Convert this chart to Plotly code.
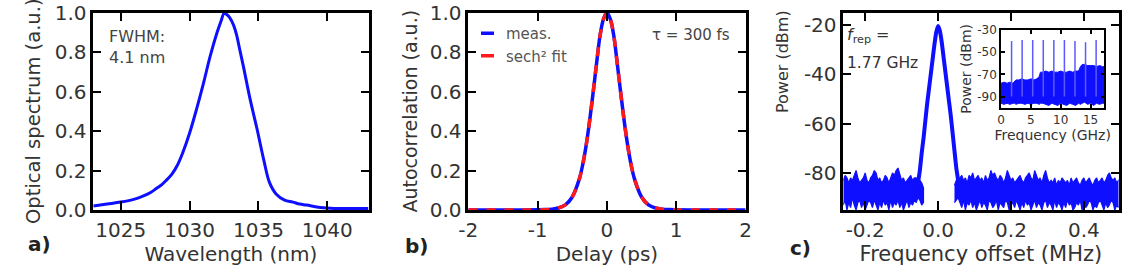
import plotly.graph_objects as go

FONT = "DejaVu Sans"
BLUE = "rgb(15,15,255)"
RED = "rgb(255,25,25)"

# ---------------- Panel a: optical spectrum ----------------
wavelength_nm = [1023.0, 1024.0, 1025.0, 1026.0, 1026.6, 1027.2, 1027.6, 1028.0, 1028.3, 1028.7,
                 1029.1, 1029.5, 1030.0, 1030.5, 1031.0, 1031.5, 1032.0, 1032.3, 1032.5, 1032.7,
                 1032.9, 1033.2, 1033.4, 1033.65, 1033.9, 1034.4, 1034.9, 1035.4, 1035.8, 1036.3,
                 1036.9, 1037.5, 1038.0, 1038.5, 1039.5, 1040.5, 1041.5, 1043.0]
spectrum_au = [0.02, 0.03, 0.04, 0.055, 0.07, 0.09, 0.11, 0.13, 0.15, 0.18,
               0.225, 0.29, 0.39, 0.51, 0.64, 0.78, 0.90, 0.96, 0.995, 0.99,
               0.975, 0.935, 0.89, 0.81, 0.73, 0.56, 0.41, 0.25, 0.14, 0.08,
               0.05, 0.04, 0.03, 0.025, 0.013, 0.008, 0.008, 0.008]
a_xticks = [1025, 1030, 1035, 1040]
a_xticklabels = ["1025", "1030", "1035", "1040"]
au_ticks = [0, 0.2, 0.4, 0.6, 0.8, 1.0]
au_ticklabels = ["0.0", "0.2", "0.4", "0.6", "0.8", "1.0"]

# ---------------- Panel b: autocorrelation ----------------
delay_ps = [-2.0, -1.5, -1.2, -1.0, -0.9, -0.8, -0.7, -0.6, -0.5, -0.4, -0.35, -0.3, -0.25, -0.2,
            -0.15, -0.1, -0.05, 0.0, 0.05, 0.1, 0.15, 0.2, 0.25, 0.3, 0.35, 0.4, 0.5, 0.6,
            0.7, 0.8, 0.9, 1.0, 1.2, 1.5, 2.0]
ac_meas = [0.0, 0.0, 0.0, 0.001, 0.002, 0.004, 0.010, 0.026, 0.066, 0.155, 0.228, 0.326, 0.449, 0.591,
           0.739, 0.881, 0.966, 1.0, 0.966, 0.881, 0.739, 0.591, 0.449, 0.326, 0.228, 0.155, 0.066, 0.026,
           0.010, 0.004, 0.002, 0.001, 0.0, 0.0, 0.0]
ac_fit = [0.0, 0.0, 0.0, 0.0005, 0.0015, 0.0037, 0.010, 0.026, 0.066, 0.155, 0.228, 0.326, 0.449, 0.591,
          0.739, 0.881, 0.966, 1.0, 0.966, 0.881, 0.739, 0.591, 0.449, 0.326, 0.228, 0.155, 0.066, 0.026,
          0.010, 0.0037, 0.0015, 0.0005, 0.0, 0.0, 0.0]
b_xticks = [-2, -1, 0, 1, 2]
b_xticklabels = ["-2", "-1", "0", "1", "2"]

# ---------------- Panel c: RF spectrum ----------------
peak_offset_mhz = [-0.058, -0.055, -0.05, -0.045, -0.04, -0.035, -0.03, -0.025, -0.02, -0.015, -0.01, -0.005,
                   0.0, 0.005, 0.01, 0.015, 0.02, 0.025, 0.03, 0.035, 0.04, 0.045, 0.05, 0.055, 0.058]
peak_power_dbm = [-89, -84, -79, -72, -66, -59, -52, -46, -40, -34, -28, -23,
                  -20.5, -22.5, -27, -33, -39, -45, -51, -57, -64, -71, -78, -83, -88]

floor_left_mhz = [-0.26, -0.255, -0.25, -0.245, -0.24, -0.235, -0.23, -0.225, -0.22, -0.215,
                  -0.21, -0.205, -0.20, -0.195, -0.19, -0.185, -0.18, -0.175, -0.17, -0.165,
                  -0.16, -0.155, -0.15, -0.145, -0.14, -0.135, -0.13, -0.125, -0.12, -0.115,
                  -0.11, -0.105, -0.10, -0.095, -0.09, -0.085, -0.08, -0.075, -0.07, -0.065,
                  -0.06, -0.055, -0.05, -0.045, -0.04]
floor_left_upper = [-83, -81, -82, -84, -82, -83, -81, -79, -82, -84,
                    -83, -82, -80, -83, -84, -82, -81, -79, -80, -83,
                    -82, -84, -83, -81, -82, -84, -82, -80, -81, -79,
                    -78, -81, -83, -82, -84, -83, -82, -81, -83, -82,
                    -82, -83, -83, -84, -86]
floor_left_lower = [-93, -91, -95, -92, -94, -90, -93, -95, -92, -91,
                    -94, -92, -95, -93, -91, -92, -94, -91, -93, -95,
                    -92, -94, -91, -93, -92, -95, -91, -94, -92, -93,
                    -91, -94, -92, -95, -93, -91, -94, -92, -93, -91,
                    -92, -90, -91, -93, -92]

floor_right_mhz = [0.045, 0.05, 0.055, 0.06, 0.065, 0.07, 0.075, 0.08, 0.085, 0.09, 0.095, 0.10,
                   0.105, 0.11, 0.115, 0.12, 0.125, 0.13, 0.135, 0.14, 0.145, 0.15,
                   0.155, 0.16, 0.165, 0.17, 0.175, 0.18, 0.185, 0.19, 0.195, 0.20,
                   0.205, 0.21, 0.215, 0.22, 0.225, 0.23, 0.235, 0.24, 0.245, 0.25,
                   0.255, 0.26, 0.265, 0.27, 0.275, 0.28, 0.285, 0.29, 0.295, 0.30,
                   0.305, 0.31, 0.315, 0.32, 0.325, 0.33, 0.335, 0.34, 0.345, 0.35,
                   0.355, 0.36, 0.365, 0.37, 0.375, 0.38, 0.385, 0.39, 0.395, 0.40,
                   0.405, 0.41, 0.415, 0.42, 0.425, 0.43, 0.435, 0.44, 0.445, 0.45,
                   0.455, 0.46, 0.465, 0.47, 0.475, 0.48, 0.485, 0.49, 0.495, 0.50]
floor_right_upper = [-85, -83, -83, -82, -81, -83, -82, -84, -81, -82, -80, -83,
                     -82, -81, -83, -82, -84, -81, -83, -82, -79, -81,
                     -80, -82, -83, -81, -82, -84, -82, -79, -81, -83,
                     -82, -84, -83, -82, -81, -83, -84, -82, -81, -80,
                     -82, -83, -79, -81, -83, -82, -84, -81, -79, -82,
                     -84, -83, -84, -82, -85, -83, -84, -82, -83, -84,
                     -83, -85, -82, -84, -83, -82, -84, -85, -83, -82,
                     -84, -83, -82, -84, -85, -83, -82, -84, -83, -82,
                     -84, -83, -81, -80, -82, -83, -82, -84, -83, -82]
floor_right_lower = [-92, -91, -90, -92, -94, -91, -95, -92, -93, -91, -94, -92,
                     -95, -93, -91, -94, -92, -93, -95, -91, -92, -94,
                     -93, -91, -95, -92, -93, -94, -91, -92, -95, -93,
                     -92, -94, -91, -93, -95, -92, -94, -91, -93, -92,
                     -95, -93, -91, -94, -92, -93, -95, -92, -91, -94,
                     -92, -93, -95, -91, -94, -92, -93, -95, -92, -94,
                     -91, -93, -92, -95, -94, -92, -93, -91, -95, -92,
                     -94, -93, -91, -92, -95, -93, -94, -92, -91, -93,
                     -95, -92, -94, -93, -91, -92, -95, -93, -94, -92]
c_xticks = [-0.2, 0.0, 0.2, 0.4]
c_xticklabels = ["-0.2", "0.0", "0.2", "0.4"]
c_yticks = [-20, -40, -60, -80]
c_yticklabels = ["-20", "-40", "-60", "-80"]

# ---------------- Inset: wide-span RF spectrum ----------------
inset_freq_ghz = [0, 0.5, 1.0, 1.5, 2.0, 2.3, 2.5, 3.0, 3.5, 4.0, 4.5, 5.0, 5.5, 6.0, 6.4, 6.6,
                  7.0, 7.5, 8.0, 8.5, 9.0, 9.5, 10.0, 10.5, 11.0, 11.5, 12.0, 12.5, 13.0, 13.3,
                  13.6, 14.0, 14.5, 15.0, 15.5, 16.0, 16.5, 17.0, 17.3]
inset_upper_dbm = [-78, -77, -78, -77, -78, -76, -75, -75, -74, -75, -75, -74, -75, -74, -72, -68,
                   -68, -67, -68, -67, -68, -68, -67, -68, -68, -67, -68, -67, -67, -63,
                   -61, -61, -62, -62, -62, -63, -62, -63, -63]
inset_lower_dbm = [-96, -97, -96, -97, -96, -96, -97, -96, -96, -97, -96, -97, -96, -96, -97, -96,
                   -96, -97, -98, -96, -97, -98, -96, -97, -98, -96, -97, -98, -96, -97,
                   -96, -95, -97, -96, -98, -96, -97, -96, -96]
harmonic_freq_ghz = [1.77, 3.54, 5.31, 7.08, 8.85, 10.62, 12.39, 14.16, 15.93]
harmonic_peak_dbm = [-40, -39, -39, -39, -39, -39, -40, -41, -39]
harmonic_base_dbm = [-90, -90, -90, -90, -90, -90, -90, -90, -90]
inset_xticks = [0, 5, 10, 15]
inset_xticklabels = ["0", "5", "10", "15"]
inset_yticks = [-30, -50, -70, -90]
inset_yticklabels = ["-30", "-50", "-70", "-90"]

W, H = 1138, 270


def px_x(p):
    return p / W


def px_y(p):
    return 1 - p / H


fig = go.Figure()

# panel a
fig.add_trace(go.Scatter(x=wavelength_nm, y=spectrum_au, mode="lines", line=dict(color=BLUE, width=3, shape="spline"),
                         showlegend=False, xaxis="x", yaxis="y"))

# panel b
fig.add_trace(go.Scatter(x=delay_ps, y=ac_meas, mode="lines", line=dict(color=BLUE, width=3.5, shape="spline"),
                         showlegend=False, xaxis="x2", yaxis="y2"))
fig.add_trace(go.Scatter(x=delay_ps, y=ac_fit, mode="lines",
                         line=dict(color=RED, width=3.5, shape="spline", dash="9px,9px"),
                         showlegend=False, xaxis="x2", yaxis="y2"))
# legend entries (short dash samples)
fig.add_trace(go.Scatter(x=[None], y=[None], mode="lines", name="meas.",
                         line=dict(color=BLUE, width=3.5, dash="0px,10px,13px,200px"), xaxis="x2", yaxis="y2"))
fig.add_trace(go.Scatter(x=[None], y=[None], mode="lines", name="sech² fit",
                         line=dict(color=RED, width=3.5, dash="0px,10px,13px,200px"), xaxis="x2", yaxis="y2"))

# panel c: noise floor bands
for xs, up, lo in [(floor_left_mhz, floor_left_upper, floor_left_lower),
                   (floor_right_mhz, floor_right_upper, floor_right_lower)]:
    fig.add_trace(go.Scatter(x=list(xs) + list(xs)[::-1], y=list(up) + list(lo)[::-1], mode="lines",
                             fill="toself", fillcolor=BLUE, line=dict(color=BLUE, width=1.2),
                             showlegend=False, xaxis="x3", yaxis="y3"))
fig.add_trace(go.Scatter(x=peak_offset_mhz, y=peak_power_dbm, mode="lines",
                         line=dict(color=BLUE, width=4, shape="spline", smoothing=0.6),
                         showlegend=False, xaxis="x3", yaxis="y3"))

# inset
fig.add_trace(go.Scatter(x=list(inset_freq_ghz) + list(inset_freq_ghz)[::-1],
                         y=list(inset_upper_dbm) + list(inset_lower_dbm)[::-1], mode="lines",
                         fill="toself", fillcolor=BLUE, line=dict(color=BLUE, width=1),
                         showlegend=False, xaxis="x4", yaxis="y4"))
hx, hy = [], []
for f, base, pk in zip(harmonic_freq_ghz, harmonic_base_dbm, harmonic_peak_dbm):
    hx += [f, f, None]
    hy += [base, pk, None]
fig.add_trace(go.Scatter(x=hx, y=hy, mode="lines", line=dict(color="rgb(90,90,255)", width=1.5),
                         showlegend=False, xaxis="x4", yaxis="y4"))

tickfont = dict(family=FONT, size=20, color="#333")
base_axis = dict(showline=True, linecolor="black", linewidth=2.5, mirror="ticks", ticks="inside",
                 tickwidth=2, tickcolor="black", showgrid=False, zeroline=False, tickfont=tickfont,
                 automargin=False, tickmode="array")
xbase = dict(base_axis, ticklen=9)
ybase = dict(base_axis, ticklen=8)

ydom = [px_y(210), px_y(12.5)]
a_dom = [px_x(93.3), px_x(368.5)]
b_dom = [px_x(468.3), px_x(745.5)]
c_dom = [px_x(843.3), px_x(1118.5)]
title_font = dict(family=FONT, size=20, color="#333")

fig.update_layout(
    width=W, height=H, margin=dict(l=0, r=0, t=0, b=0),
    paper_bgcolor="white", plot_bgcolor="white",
    xaxis=dict(xbase, domain=a_dom, anchor="y", range=[1023, 1043], tickvals=a_xticks, ticktext=a_xticklabels,
               title=dict(text="Wavelength (nm)", font=title_font, standoff=0)),
    yaxis=dict(ybase, domain=ydom, anchor="x", range=[0, 1.0], tickvals=au_ticks, ticktext=au_ticklabels,
               title=dict(text="Optical spectrum (a.u.)", font=dict(title_font, size=19.5), standoff=9)),
    xaxis2=dict(xbase, domain=b_dom, anchor="y2", range=[-2, 2], tickvals=b_xticks, ticktext=b_xticklabels,
                title=dict(text="Delay (ps)", font=title_font, standoff=0)),
    yaxis2=dict(ybase, domain=ydom, anchor="x2", range=[0, 1.0], tickvals=au_ticks, ticktext=au_ticklabels,
                title=dict(text="Autocorrelation (a.u.)", font=dict(title_font, size=19), standoff=8)),
    xaxis3=dict(xbase, domain=c_dom, anchor="y3", range=[-0.26, 0.495], tickvals=c_xticks, ticktext=c_xticklabels,
                title=dict(text="Frequency offset (MHz)", font=dict(title_font, size=21), standoff=0)),
    yaxis3=dict(ybase, domain=ydom, anchor="x3", range=[-95, -15], tickvals=c_yticks, ticktext=c_yticklabels),
    xaxis4=dict(base_axis, domain=[px_x(1001), px_x(1104.3)], anchor="y4", range=[0, 17.3], linewidth=1.5,
                ticklen=4, tickwidth=1.5, tickvals=inset_xticks, ticktext=inset_xticklabels,
                tickfont=dict(family=FONT, size=12, color="#333"),
                title=dict(text="Frequency (GHz)", font=dict(family=FONT, size=14, color="#333"), standoff=0)),
    yaxis4=dict(base_axis, domain=[px_y(107.7), px_y(30)], anchor="x4", range=[-100, -30], linewidth=1.5,
                ticklen=4, tickwidth=1.5, tickvals=inset_yticks, ticktext=inset_yticklabels,
                tickfont=dict(family=FONT, size=12, color="#333"),
                title=dict(text="Power (dBm)", font=dict(family=FONT, size=14, color="#333"), standoff=2)),
    legend=dict(x=px_x(466), y=px_y(17), xanchor="left", yanchor="top", bgcolor="rgba(0,0,0,0)",
                font=dict(family=FONT, size=15, color="#555"), tracegroupgap=0),
    showlegend=True,
)

ann_font = dict(family=FONT, size=15, color="#444")
annotations = [
    dict(text="FWHM:<br>4.1 nm", x=px_x(107), y=px_y(25), xanchor="left", yanchor="top", align="left",
         font=dict(ann_font, size=16)),
    dict(text="τ = 300 fs", x=px_x(732), y=px_y(35), xanchor="right", yanchor="middle", font=ann_font),
    dict(text="<i>f</i><sub>rep</sub> =", x=px_x(845), y=px_y(35), xanchor="left", yanchor="middle",
         font=dict(ann_font, size=16, color="#333")),
    dict(text="1.77 GHz", x=px_x(845), y=px_y(63), xanchor="left", yanchor="middle",
         font=dict(ann_font, size=15.5, color="#333")),
    dict(text="Power (dBm)", x=px_x(782), y=px_y(62), xanchor="center", yanchor="middle", textangle=-90,
         font=dict(family=FONT, size=16, color="#333")),
    dict(text="<b>a)</b>", x=px_x(26), y=px_y(244), xanchor="left", yanchor="middle",
         font=dict(family=FONT, size=20, color="#222")),
    dict(text="<b>b)</b>", x=px_x(403), y=px_y(246), xanchor="left", yanchor="middle",
         font=dict(family=FONT, size=20, color="#222")),
    dict(text="<b>c)</b>", x=px_x(788), y=px_y(248), xanchor="left", yanchor="middle",
         font=dict(family=FONT, size=20, color="#222")),
]
for a in annotations:
    a.update(xref="paper", yref="paper", showarrow=False)
fig.update_layout(annotations=annotations)

fig.write_html("out.html")
